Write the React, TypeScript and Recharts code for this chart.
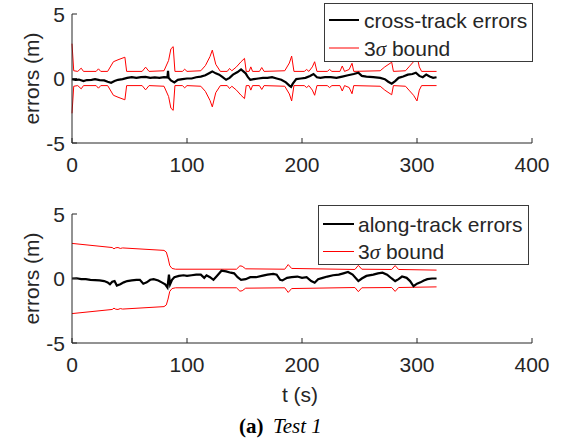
import { LineChart, Line, XAxis, YAxis, Legend } from "recharts";

// cross-track (top panel)
const crossTime = [0, 3, 6, 10, 13, 17, 20, 24, 28, 31, 34, 37, 40, 44, 48, 52, 56, 60, 64, 68, 72, 76, 80, 83, 83.5, 84, 86, 89, 92, 96, 100, 104, 108, 112, 116, 120, 122, 125, 128, 131, 134, 137, 140, 144, 147, 149, 151, 153, 155, 158, 162, 166, 170, 174, 178, 182, 186, 189, 190.5, 192, 195, 199, 203, 207, 210, 213, 216, 220, 225, 230, 235, 240, 245, 249, 252, 256, 262, 268, 272, 275, 278, 281, 284, 288, 292, 296, 299, 302, 305, 308, 311, 314, 317];
const crossErrors = [-0.05, -0.1, -0.08, -0.2, -0.12, -0.1, -0.05, -0.12, -0.15, -0.25, -0.33, -0.2, -0.1, -0.05, 0.05, 0.1, 0.05, 0.1, 0.12, 0.05, 0.08, 0.05, 0.1, 0.08, 0.6, 0.05, -0.15, -0.3, -0.1, -0.05, 0.0, 0.0, 0.1, 0.15, 0.25, 0.45, 0.55, 0.4, 0.3, 0.1, -0.1, 0.05, 0.3, 0.5, 0.7, 0.55, 0.4, 0.1, -0.1, -0.05, 0.0, 0.05, 0.05, 0.1, 0.0, -0.1, -0.3, -0.55, -0.65, -0.4, -0.05, 0.0, 0.05, 0.2, 0.35, 0.1, 0.05, 0.1, 0.1, 0.05, 0.15, 0.25, 0.35, 0.45, 0.2, 0.15, 0.1, 0.05, -0.05, -0.25, -0.4, -0.2, 0.05, 0.15, 0.3, 0.35, 0.45, 0.2, 0.1, 0.3, 0.15, 0.05, 0.1];
const crossBoundTime = [0, 1.5, 5, 8, 10, 21, 23, 25, 31, 36, 40, 46, 47.5, 61, 64, 67, 80, 84, 86, 88, 89.5, 96, 98, 100, 112, 116, 120, 122, 125, 129, 135, 137, 139, 143, 147, 150, 151.5, 154, 155.5, 157, 163, 165, 167, 185, 189, 191, 193, 202, 204, 206, 209, 211, 213, 222, 224, 226, 233, 235, 237, 241, 243.5, 245, 268, 272, 278, 279.5, 290, 293, 297, 300, 302, 304, 317];
const crossBound = [2.7, 0.6, 0.55, 0.8, 0.55, 0.55, 0.75, 0.55, 0.55, 1.3, 1.45, 1.65, 0.55, 0.55, 0.88, 0.55, 0.6, 1.4, 2.3, 2.47, 0.55, 0.55, 0.72, 0.55, 0.6, 1.0, 1.7, 2.2, 1.1, 0.55, 0.55, 0.78, 0.6, 0.9, 1.3, 1.56, 0.55, 0.55, 0.9, 0.55, 0.55, 0.85, 0.55, 0.6, 1.2, 1.74, 0.55, 0.55, 0.7, 0.55, 0.9, 1.3, 0.55, 0.55, 0.7, 0.55, 0.55, 0.97, 0.55, 0.7, 1.18, 0.55, 0.6, 0.9, 1.26, 0.55, 0.6, 0.9, 1.3, 1.74, 0.9, 0.55, 0.55];

// along-track (bottom panel)
const alongTime = [0, 4, 8, 12, 16, 20, 24, 28, 31, 33, 35, 37, 39, 42, 45, 48, 52, 56, 59, 62, 65, 68, 71, 75, 78, 81, 83, 84.3, 85.3, 87, 89, 93, 97, 100, 104, 108, 112, 115, 117, 120, 123, 126, 130, 134, 138, 141, 144, 147, 151, 155, 160, 165, 170, 175, 178, 181, 183, 187, 191, 196, 200, 204, 208, 211, 214, 218, 222, 227, 232, 236, 240, 244, 249, 252, 256, 262, 266, 270, 274, 278, 281, 284, 287, 291, 294, 297, 300, 303, 306, 309, 313, 317];
const alongErrors = [0.0, 0.02, -0.05, -0.05, -0.1, -0.12, -0.15, -0.2, -0.3, -0.45, -0.25, -0.2, -0.55, -0.45, -0.3, -0.2, -0.15, -0.1, -0.1, -0.4, -0.3, -0.1, -0.05, -0.15, -0.3, -0.45, -0.7, 0.3, -0.45, -0.1, 0.1, 0.2, 0.25, 0.2, 0.25, 0.3, 0.3, 0.05, 0.25, 0.1, -0.1, 0.2, 0.6, 0.55, 0.45, 0.4, 0.1, -0.1, -0.05, 0.1, 0.1, 0.2, 0.3, 0.35, 0.3, -0.1, -0.15, 0.05, 0.1, 0.15, 0.05, 0.1, -0.2, -0.33, -0.05, 0.05, 0.15, 0.25, 0.3, 0.4, 0.5, 0.3, -0.2, 0.0, 0.2, 0.3, 0.4, 0.45, 0.3, 0.0, -0.2, -0.05, 0.15, 0.05, -0.2, -0.6, -0.4, -0.3, -0.15, -0.05, 0.0, 0.0];
const alongBoundTime = [0, 35, 36.5, 38, 40, 42, 44, 80, 82, 83.5, 85, 87, 90, 143, 146, 148, 151, 185, 188, 191, 246, 249, 252, 278, 281, 284, 317];
const alongBound = [2.72, 2.4, 2.3, 2.38, 2.4, 2.33, 2.37, 2.18, 2.05, 1.6, 1.0, 0.78, 0.72, 0.72, 0.98, 0.95, 0.75, 0.72, 1.08, 0.78, 0.7, 1.02, 0.72, 0.7, 1.0, 0.7, 0.65];

const xTicks = [0, 100, 200, 300, 400];
const yTicks = [-5, 0, 5];

const axisColor = "#262626";
const font = "'Liberation Sans', Arial, Helvetica, sans-serif";
const boundName = "3σ bound";

const toPoints = (ts: number[], vs: number[], sign = 1) =>
  ts.map((t, i) => ({ t, v: sign * vs[i] }));

const XTick = (props: any) => {
  const { x, y, payload } = props;
  return (
    <g>
      <line x1={x} y1={y} x2={x} y2={y - 5} stroke={axisColor} />
      <text x={x} y={y + 29} textAnchor="middle" fontSize={21} fontFamily={font} fill={axisColor}>
        {payload.value}
      </text>
    </g>
  );
};

const YTick = (props: any) => {
  const { x, y, payload } = props;
  return (
    <g>
      <line x1={x} y1={y} x2={x + 5} y2={y} stroke={axisColor} />
      <text x={x - 7} y={y + 7.5} textAnchor="end" fontSize={21} fontFamily={font} fill={axisColor}>
        {payload.value}
      </text>
    </g>
  );
};

type LegendBox = { left: number; top: number; w: number; h: number; line: [number, number]; text: number; rows: [number, number] };

const legendContent = (pos: LegendBox) => (props: any) => {
  // errors entry first, bound second (as in the original legend)
  const items = (props.payload || [])
    .filter((p: any) => p.type !== "none")
    .sort((a: any, b: any) => (a.value === boundName ? 1 : 0) - (b.value === boundName ? 1 : 0));
  return (
    <svg width={pos.w} height={pos.h} style={{ display: "block" }}>
      <rect x={0.5} y={0.5} width={pos.w - 1} height={pos.h - 1} fill="#fff" stroke="#3a3a3a" />
      {items.map((item: any, i: number) => {
        const cy = pos.rows[i];
        const isBound = item.value === boundName;
        const parts = String(item.value).split("σ");
        return (
          <g key={item.value}>
            <line x1={pos.line[0]} x2={pos.line[1]} y1={cy} y2={cy} stroke={item.color} strokeWidth={isBound ? 1 : 2} />
            <text x={pos.text} y={cy + 7.5} fontSize={21} fontFamily={font} fill={axisColor}>
              {parts.length > 1 ? (
                <>
                  {parts[0]}
                  <tspan fontFamily="'Liberation Serif', serif" fontStyle="italic">σ</tspan>
                  {parts[1]}
                </>
              ) : (
                item.value
              )}
            </text>
          </g>
        );
      })}
    </svg>
  );
};

type PanelProps = {
  errTime: number[];
  errors: number[];
  boundTime: number[];
  bound: number[];
  errName: string;
  height: number;
  bottom: number;
  legendBox: LegendBox;
  xLabel?: string;
};

function Panel({ errTime, errors, boundTime, bound, errName, height, bottom, legendBox, xLabel }: PanelProps) {
  return (
    <LineChart width={564} height={height} margin={{ top: 14, right: 32, bottom, left: 32 }}>
      <XAxis
        dataKey="t"
        type="number"
        domain={[0, 400]}
        ticks={xTicks}
        interval={0}
        height={30}
        tickSize={0}
        tickMargin={0}
        tick={<XTick />}
        tickLine={false}
        axisLine={{ stroke: axisColor }}
        allowDuplicatedCategory={false}
        label={
          xLabel
            ? {
                content: () => (
                  <text x={300} y={201.5} textAnchor="middle" fontSize={21} fontFamily={font} fill={axisColor}>
                    {xLabel}
                  </text>
                ),
              }
            : undefined
        }
      />
      <YAxis
        type="number"
        domain={[-5, 5]}
        ticks={yTicks}
        interval={0}
        width={40}
        tickSize={0}
        tickMargin={0}
        tick={<YTick />}
        tickLine={false}
        axisLine={{ stroke: axisColor }}
        label={{
          content: () => (
            <text
              x={31}
              y={78.5}
              transform="rotate(-90 31 78.5)"
              textAnchor="middle"
              dominantBaseline="central"
              fontSize={21}
              fontFamily={font}
              fill={axisColor}
            >
              errors (m)
            </text>
          ),
        }}
      />
      <Legend
        layout="horizontal"
        verticalAlign="middle"
        align="center"
        wrapperStyle={{ left: legendBox.left, top: legendBox.top, width: legendBox.w, height: legendBox.h }}
        content={legendContent(legendBox)}
      />
      <Line
        data={toPoints(boundTime, bound)}
        dataKey="v"
        name={boundName}
        stroke="#ff0000"
        strokeWidth={1}
        dot={false}
        activeDot={false}
        isAnimationActive={false}
      />
      <Line
        data={toPoints(boundTime, bound, -1)}
        dataKey="v"
        name="lower"
        legendType="none"
        stroke="#ff0000"
        strokeWidth={1}
        dot={false}
        activeDot={false}
        isAnimationActive={false}
      />
      <Line
        data={toPoints(errTime, errors)}
        dataKey="v"
        name={errName}
        stroke="#000000"
        strokeWidth={2.2}
        dot={false}
        activeDot={false}
        isAnimationActive={false}
      />
    </LineChart>
  );
}

export default function App() {
  return (
    <div style={{ position: "absolute", left: 0, top: 0, width: 564, height: 445, background: "#fff" }}>
      <div style={{ position: "absolute", left: 0, top: 0 }}>
        <Panel
          errTime={crossTime}
          errors={crossErrors}
          boundTime={crossBoundTime}
          bound={crossBound}
          errName="cross-track errors"
          height={190}
          bottom={17}
          legendBox={{ left: 324, top: 3, w: 209, h: 59, line: [5, 35], text: 40, rows: [17, 45] }}
        />
      </div>
      <div style={{ position: "absolute", left: 0, top: 200 }}>
        <Panel
          errTime={alongTime}
          errors={alongErrors}
          boundTime={alongBoundTime}
          bound={alongBound}
          errName="along-track errors"
          height={245}
          bottom={72}
          xLabel="t (s)"
          legendBox={{ left: 318, top: 5, w: 211, h: 60, line: [5, 36], text: 40, rows: [19, 46.5] }}
        />
      </div>
      <svg width={564} height={30} style={{ position: "absolute", left: 0, top: 413 }}>
        <text y={19.7} fontSize={21} fill="#000">
          <tspan x={239} fontFamily="'Liberation Serif', 'Times New Roman', serif" fontWeight="bold">(a)</tspan>
          <tspan x={273} fontFamily="'Liberation Serif', 'Times New Roman', serif" fontStyle="italic">Test 1</tspan>
        </text>
      </svg>
    </div>
  );
}
